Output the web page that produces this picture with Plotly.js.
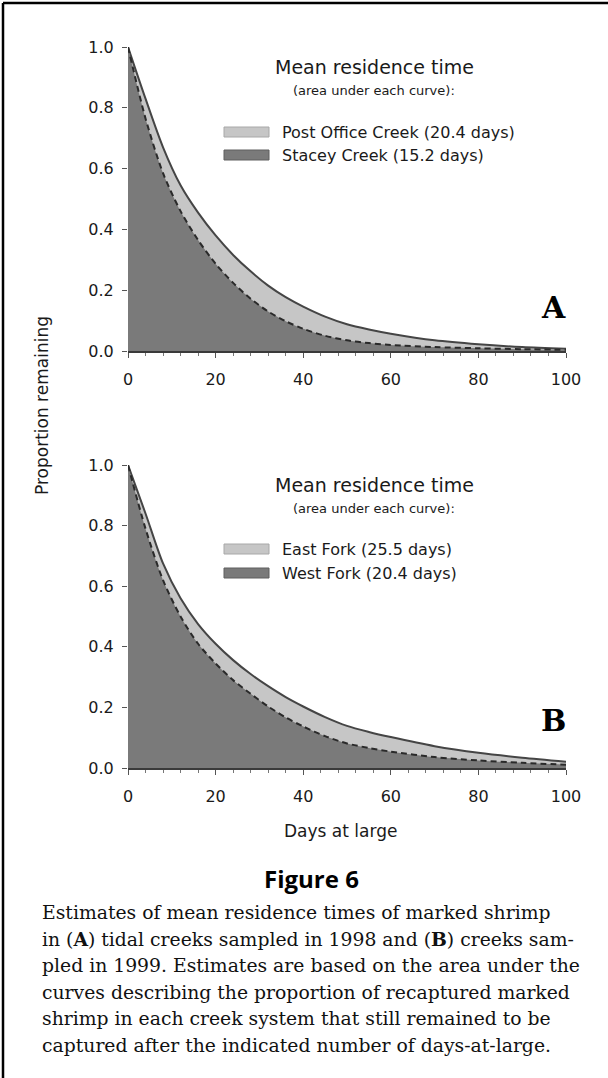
<!DOCTYPE html>
<html>
<head>
<meta charset="utf-8">
<script src="https://cdn.plot.ly/plotly-3.0.1.min.js"></script>
<style>
  html, body { margin: 0; padding: 0; background: #ffffff; }
  #chart { width: 608px; height: 1078px; }
</style>
</head>
<body>
<div id="chart"></div>
<script>
// ---- Data ----
const days = [0, 4, 8, 12, 16, 20, 24, 28, 32, 36, 40, 45, 50, 55, 60, 70, 80, 90, 100];

// Panel A (1998)
const postOfficeCreek = [1.0, 0.83, 0.67, 0.545, 0.455, 0.38, 0.316, 0.262, 0.215, 0.177, 0.146, 0.113, 0.088, 0.071, 0.057, 0.035, 0.022, 0.013, 0.007];
const staceyCreek     = [1.0, 0.765, 0.585, 0.46, 0.365, 0.287, 0.224, 0.172, 0.13, 0.098, 0.073, 0.05, 0.035, 0.026, 0.02, 0.013, 0.009, 0.006, 0.004];

// Panel B (1999)
const eastFork = [1.0, 0.84, 0.675, 0.56, 0.475, 0.41, 0.356, 0.31, 0.27, 0.234, 0.203, 0.168, 0.139, 0.119, 0.102, 0.072, 0.05, 0.034, 0.021];
const westFork = [1.0, 0.79, 0.62, 0.5, 0.41, 0.345, 0.29, 0.245, 0.203, 0.167, 0.137, 0.105, 0.081, 0.066, 0.054, 0.036, 0.025, 0.017, 0.011];

const legendA = ["Post Office Creek (20.4 days)", "Stacey Creek (15.2 days)"];
const legendB = ["East Fork (25.5 days)", "West Fork (20.4 days)"];
const xTicks = [0, 20, 40, 60, 80, 100];
const yTicks = [0, 0.2, 0.4, 0.6, 0.8, 1.0];

const captionLines = [
  "Estimates of mean residence times of marked shrimp",
  "in (<b>A</b>) tidal creeks sampled in 1998 and (<b>B</b>) creeks sam-",
  "pled in 1999. Estimates are based on the area under the",
  "curves describing the proportion of recaptured marked",
  "shrimp in each creek system that still remained to be",
  "captured after the indicated number of days-at-large."
];

// ---- Styling ----
const W = 608, H = 1078;
const px = x => x / W;
const py = y => 1 - y / H;
const LIGHT = '#c6c6c6';
const DARK = '#7a7a7a';
const SANS = 'DejaVu Sans, Liberation Sans, Arial, sans-serif';
const SERIF = 'DejaVu Serif, Liberation Serif, serif';
const TXT = '#1a1a1a';

function pair(xa, ya, upper, lower) {
  return [
    { x: days, y: upper, xaxis: xa, yaxis: ya, type: 'scatter', mode: 'lines',
      line: { color: '#454545', width: 2, shape: 'spline', smoothing: 0.8 },
      fill: 'tozeroy', fillcolor: LIGHT, hoverinfo: 'skip' },
    { x: days, y: lower, xaxis: xa, yaxis: ya, type: 'scatter', mode: 'lines',
      line: { color: '#2a2a2a', width: 2, dash: '6px,4px', shape: 'spline', smoothing: 0.8 },
      fill: 'tozeroy', fillcolor: DARK, hoverinfo: 'skip' }
  ];
}

const traces = [].concat(
  pair('x', 'y', postOfficeCreek, staceyCreek),
  pair('x2', 'y2', eastFork, westFork)
);

function xaxisDef(anchor) {
  return {
    domain: [px(128), px(566)], range: [0, 100], anchor: anchor,
    tickvals: xTicks, ticktext: xTicks.map(String),
    showline: true, linecolor: '#3a3a3a', linewidth: 2,
    ticks: 'outside', ticklen: 5, tickwidth: 1, tickcolor: '#555',
    minor: { dtick: 4, tick0: 0, ticks: 'outside', ticklen: 3, tickwidth: 1, tickcolor: '#777' },
    showgrid: false, zeroline: false, ticklabelstandoff: 8,
    tickfont: { family: SANS, size: 16, color: TXT }, fixedrange: true
  };
}
function yaxisDef(anchor, top, bottom) {
  return {
    domain: [py(bottom), py(top)], range: [0, 1], anchor: anchor,
    tickvals: yTicks, ticktext: yTicks.map(v => v.toFixed(1)),
    showline: false, ticks: 'outside', ticklen: 5, tickwidth: 1, tickcolor: '#555',
    showgrid: false, zeroline: false, ticklabelstandoff: 5,
    tickfont: { family: SANS, size: 16, color: TXT }, fixedrange: true
  };
}

const annotations = [];
const shapes = [];
function ann(text, x, y, size, opts) {
  annotations.push(Object.assign({
    text: text, x: px(x), y: py(y), xref: 'paper', yref: 'paper',
    showarrow: false, xanchor: 'center', yanchor: 'middle',
    font: { family: SANS, size: size, color: TXT }
  }, opts || {}));
}

function legendBlock(yTitle, ySub, yItem1, yItem2, labels) {
  ann('Mean residence time', 374, yTitle, 19);
  ann('(area under each curve):', 374, ySub, 13);
  [[yItem1, LIGHT, '#a8a8a8', labels[0]], [yItem2, DARK, '#5e5e5e', labels[1]]].forEach(([yy, fc, lc, lab]) => {
    shapes.push({ type: 'rect', xref: 'paper', yref: 'paper',
      x0: px(224), x1: px(269), y0: py(yy + 5), y1: py(yy - 5),
      fillcolor: fc, line: { color: lc, width: 1 } });
    ann(lab, 280, yy, 16, { xanchor: 'left' });
  });
}
legendBlock(67, 91, 132, 155, legendA);
legendBlock(485, 508, 549, 573, legendB);

// panel letters
ann('<b>A</b>', 553, 307, 30, { font: { family: SERIF, size: 30, color: '#000' } });
ann('<b>B</b>', 553, 721, 30, { font: { family: SERIF, size: 30, color: '#000' } });

// axis titles
ann('Proportion remaining', 42, 406, 17, { textangle: -90 });
ann('Days at large', 340, 831, 17);

// figure caption
ann('<b>Figure 6</b>', 311, 878, 24, { font: { family: 'Open Sans, DejaVu Sans, sans-serif', size: 24, color: '#000' } });
captionLines.forEach((line, i) => {
  ann(line, 40, 912 + i * 26.7, 18.8, { xanchor: 'left', font: { family: SERIF, size: 18.8, color: '#111' } });
});

// frame: top and left borders
shapes.push({ type: 'line', xref: 'paper', yref: 'paper', x0: px(3), x1: 1, y0: py(3), y1: py(3), line: { color: '#000', width: 2.5 } });
shapes.push({ type: 'line', xref: 'paper', yref: 'paper', x0: px(3), x1: px(3), y0: py(3), y1: 0, line: { color: '#000', width: 2.5 } });

const layout = {
  width: W, height: H,
  margin: { l: 0, r: 0, t: 0, b: 0, pad: 0 },
  paper_bgcolor: '#ffffff', plot_bgcolor: 'rgba(0,0,0,0)',
  showlegend: false,
  xaxis: xaxisDef('y'), yaxis: yaxisDef('x', 47, 351),
  xaxis2: xaxisDef('y2'), yaxis2: yaxisDef('x2', 465, 768),
  annotations: annotations, shapes: shapes
};

Plotly.newPlot('chart', traces, layout, { staticPlot: true, displayModeBar: false });
</script>
</body>
</html>
